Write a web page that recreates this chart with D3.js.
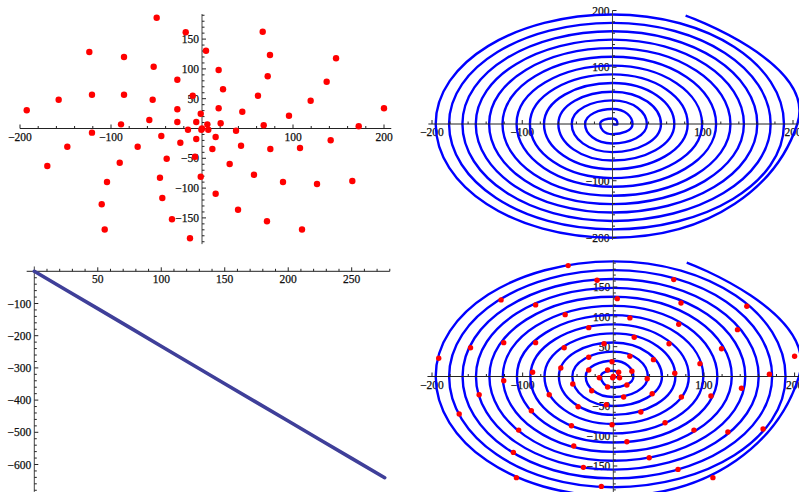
<!DOCTYPE html>
<html><head><meta charset="utf-8">
<script src="https://cdn.jsdelivr.net/npm/d3@7"></script>
<style>body{margin:0;background:#fff;} svg{display:block}</style>
</head><body>
<svg id="c" width="799" height="492"></svg>
<script>
// ---- data ----
const scatterX = [-49.8,-17.9,66.7,-123.8,4.4,-85.7,74.7,147.3,-53.1,18.3,-27.1,72.2,137,23.1,-120.9,-85.7,-10.2,61.5,-157.5,-54.2,119.4,-192.6,-27.1,18.3,44.3,200,-1.4,95.6,-57.9,-27.1,-6.3,20.5,5.9,-89,67.8,172.2,-15.4,-0.7,6.9,37.4,-120.9,-44.7,-6.3,15,141.4,-23.8,-148,-70.7,42.9,11.4,75.1,107.7,-38.8,-170,-90.4,30.4,-1.4,-46.2,57.1,-104.4,89,126.4,165.2,15,-43.6,-110.2,39.6,-33,71.4,-106.9,109.9,-13.2,-7.7,0];
const scatterY = [185.9,161.4,162.4,128.4,130.5,120,123.3,117.8,103.7,98.2,81.9,87.6,78.5,65.8,56.7,56.7,55,55,48.3,48.3,46.6,30.5,32.2,33.9,28.2,33.9,24.8,21.5,14.3,10.9,10.9,8.7,7,7,5.4,3.7,-2,-2,-2,-3.7,-7,-12.6,-17.6,-14.3,-19.8,-23.8,-30.5,-30.5,-28.9,-34.4,-34.4,-32.7,-50.7,-62.9,-57.4,-59.6,-80.9,-82.6,-77.5,-89.8,-89.8,-93.1,-88.1,-109.4,-116.6,-127.2,-136.2,-152.3,-155.7,-169.5,-169.5,-184.2,-47.3,0];

const stepX = [0, 25, 50, 75, 100, 125, 150, 175, 200, 225, 250, 276];
const stepY = [0, -58, -116, -174, -233, -291, -349, -407, -465, -523, -581, -641];

// spiral radius at every quarter turn (counter-clockwise, starting on +x axis)
const spiralRadii = [5.5,9.6,13.7,18, 22.2,26.3,30.4,34.3, 38.1,41.7,45.2,49.5,
  53.7,56.9,60,64.3, 68.5,72.2,75.9,79.6, 83.3,87.4,91.5,95.4, 99.3,102.8,106.3,110.6,
  114.8,118.4,121.9,126.4, 130.7,133.7,136.7,141.2, 145.6,148.6,151.5,156,
  160.4,163.4,166.3,170.8, 175.2,178.2,181.1,185.6, 190,193,195.9,200.4, 204.8];
const spiralEnd = [81, 191];

const p1XTicks = [-200,-100,100,200], p1YTicks = [-150,-100,-50,50,100,150];
const p2XTicks = [-200,-100,100,200], p2YTicks = [-200,-100,100,200];
const p3XTicks = [50,100,150,200,250], p3YTicks = [-600,-500,-400,-300,-200,-100];
const p4XTicks = [-200,-100,100,200], p4YTicks = [-150,-100,-50,50,100,150];

// ---- drawing ----
const svg = d3.select("#c");
const FONT = "'Liberation Serif','DejaVu Serif',serif";
const fmt = v => String(v).replace("-", "\u2212");

function drawAxes(g, xs, ys, o) {
  const x0 = xs(0), y0 = ys(0);
  const lab = g.append("g").attr("font-family", FONT).attr("font-size", 11.5)
    .attr("fill", "#111").attr("stroke", "#111").attr("stroke-width", 0.25);
  o.xMajor.forEach(v => lab.append("text").attr("x", xs(v)).attr("y", y0 + 12).attr("text-anchor", "middle").text(fmt(v)));
  o.yMajor.forEach(v => lab.append("text").attr("x", x0 - 3).attr("y", ys(v) + 4).attr("text-anchor", "end").text(fmt(v)));
  return function lines() {
    const a = g.append("g").attr("stroke", "#222").attr("stroke-width", 1).attr("fill", "none");
    a.append("line").attr("x1", xs(o.xExt[0])).attr("x2", xs(o.xExt[1])).attr("y1", y0).attr("y2", y0);
    a.append("line").attr("x1", x0).attr("x2", x0).attr("y1", ys(o.yExt[0])).attr("y2", ys(o.yExt[1])).attr("stroke", "#444");
    const xm = d3.range(Math.ceil(o.xExt[0] / o.xMinor) * o.xMinor, o.xExt[1] + 1e-6, o.xMinor).filter(v => v !== 0);
    xm.forEach(v => {
      const big = o.xMajor.includes(v);
      a.append("line").attr("x1", xs(v)).attr("x2", xs(v)).attr("y1", y0).attr("y2", y0 - (big ? 4 : 2.5));
    });
    const ym = d3.range(Math.ceil(o.yExt[0] / o.yMinor) * o.yMinor, o.yExt[1] + 1e-6, o.yMinor).filter(v => v !== 0);
    ym.forEach(v => {
      const big = o.yMajor.includes(v);
      a.append("line").attr("x1", x0).attr("x2", x0 + (big ? 4 : 2.5)).attr("y1", ys(v)).attr("y2", ys(v));
    });
  };
}

const scatterPts = scatterX.map((x, i) => [x, scatterY[i]]);
const spiralPts = [[0, 0]].concat(spiralRadii.map((r, i) => {
  const t = i * Math.PI / 2;
  return [r * Math.cos(t), r * Math.sin(t)];
}), [spiralEnd]);

// Panel 1: scatter
{
  const xs = d3.scaleLinear().domain([-200, 200]).range([20, 384]);
  const ys = d3.scaleLinear().domain([-150, 150]).range([217.9, 39.1]);
  const g = svg.append("g");
  const lines = drawAxes(g, xs, ys, {xExt: [-200, 208], yExt: [-194, 192], xMajor: p1XTicks, yMajor: p1YTicks, xMinor: 20, yMinor: 10});
  lines();
  g.append("g").selectAll("circle").data(scatterPts).join("circle")
    .attr("cx", d => xs(d[0])).attr("cy", d => ys(d[1])).attr("r", 3.2).attr("fill", "#ff0000");
}

// Panel 2: spiral
{
  const xs = d3.scaleLinear().domain([-200, 200]).range([432, 793]);
  const ys = d3.scaleLinear().domain([-200, 200]).range([237.5, 10.5]);
  const g = svg.append("g");
  svg.append("clipPath").attr("id", "clip2").append("rect").attr("x", 425).attr("y", 4).attr("width", 380).attr("height", 243);
  const lines = drawAxes(g, xs, ys, {xExt: [-204, 206], yExt: [-204, 200], xMajor: p2XTicks, yMajor: p2YTicks, xMinor: 20, yMinor: 20});
  const line = d3.line().x(d => xs(d[0])).y(d => ys(d[1])).curve(d3.curveCardinal.tension(-0.657));
  g.append("path").attr("clip-path", "url(#clip2)").attr("d", line(spiralPts))
    .attr("fill", "none").attr("stroke", "#0000ff").attr("stroke-width", 2.4);
  lines();
}

// Panel 3: line
{
  const xs = d3.scaleLinear().domain([0, 250]).range([34.3, 351.7]);
  const ys = d3.scaleLinear().domain([-600, 0]).range([464.5, 271.3]);
  const g = svg.append("g");
  const lines = drawAxes(g, xs, ys, {xExt: [-6, 280], yExt: [-685, 15], xMajor: p3XTicks, yMajor: p3YTicks, xMinor: 10, yMinor: 20});
  lines();
  const line = d3.line().x((d, i) => xs(stepX[i])).y((d, i) => ys(stepY[i]));
  g.append("path").attr("d", line(stepX)).attr("fill", "none")
    .attr("stroke", "#3f3f99").attr("stroke-width", 3.6).attr("stroke-linecap", "round");
}

// Panel 4: spiral with points
{
  const xs = d3.scaleLinear().domain([-200, 200]).range([432, 794.6]);
  const ys = d3.scaleLinear().domain([-150, 150]).range([466, 287]);
  const g = svg.append("g");
  svg.append("clipPath").attr("id", "clip4").append("rect").attr("x", 425).attr("y", 259).attr("width", 380).attr("height", 240);
  const lines = drawAxes(g, xs, ys, {xExt: [-205, 206], yExt: [-196, 195], xMajor: p4XTicks, yMajor: p4YTicks, xMinor: 20, yMinor: 10});
  const line = d3.line().x(d => xs(d[0])).y(d => ys(d[1])).curve(d3.curveCardinal.tension(-0.657));
  g.append("path").attr("clip-path", "url(#clip4)").attr("d", line(spiralPts))
    .attr("fill", "none").attr("stroke", "#0000ff").attr("stroke-width", 2.4);
  lines();
  g.append("g").selectAll("circle").data(scatterPts).join("circle")
    .attr("cx", d => xs(d[0])).attr("cy", d => ys(d[1])).attr("r", 2.7).attr("fill", "#ff0000");
}
</script>
</body></html>
